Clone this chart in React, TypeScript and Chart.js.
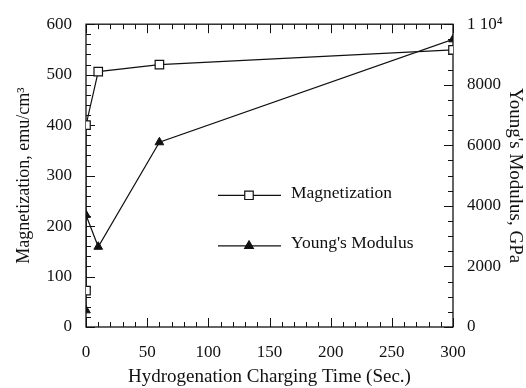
import React, { useEffect, useRef } from 'react';
import { Chart, registerables } from 'chart.js';

Chart.register(...registerables);

// ---- Data ----
const magTime = [0, 0, 10, 60, 300];
const magnetization = [72, 400, 506, 520, 549];
const ymTime = [0, 0, 10, 60, 300];
const youngsModulus = [550, 3700, 2650, 6100, 9500];

const xTickValues = [0, 50, 100, 150, 200, 250, 300];
const leftTickValues = [0, 100, 200, 300, 400, 500, 600];
const rightTickValues = [0, 2000, 4000, 6000, 8000, 10000];
const rightTickLabels = ['0', '2000', '4000', '6000', '8000', '1 10\u2074'];

const seriesNames = ['Magnetization', "Young's Modulus"];

const FONT = "'Liberation Serif', 'Times New Roman', serif";
const INK = '#111';

function drawMarker(ctx: CanvasRenderingContext2D, style: string, x: number, y: number, r: number, fill: string) {
  ctx.beginPath();
  if (style === 'rect') {
    const s = Math.SQRT1_2 * r;
    ctx.rect(x - s, y - s, 2 * s, 2 * s);
  } else {
    let a = 0;
    ctx.moveTo(x + Math.sin(a) * r, y - Math.cos(a) * r);
    a += (2 * Math.PI) / 3;
    ctx.lineTo(x + Math.sin(a) * r, y - Math.cos(a) * r);
    a += (2 * Math.PI) / 3;
    ctx.lineTo(x + Math.sin(a) * r, y - Math.cos(a) * r);
    ctx.closePath();
  }
  ctx.fillStyle = fill;
  ctx.fill();
  ctx.stroke();
}

const framePlugin = {
  id: 'frameTicks',
  beforeDatasetsDraw(chart: any) {
    const { ctx, chartArea: a, scales } = chart;
    const x = scales.x, y = scales.y, y1 = scales.y1;
    ctx.save();
    ctx.strokeStyle = INK;
    ctx.lineWidth = 1.3;
    ctx.strokeRect(a.left, a.top, a.right - a.left, a.bottom - a.top);
    ctx.lineWidth = 1;
    const major = 9, minor = 5;
    ctx.beginPath();
    for (let v = 0; v <= 300; v += 10) {
      const px = Math.round(x.getPixelForValue(v)) + 0.5;
      const len = v % 50 === 0 ? major : minor;
      ctx.moveTo(px, a.bottom); ctx.lineTo(px, a.bottom - len);
      ctx.moveTo(px, a.top); ctx.lineTo(px, a.top + len);
    }
    for (let v = 0; v <= 600; v += 20) {
      const py = Math.round(y.getPixelForValue(v)) + 0.5;
      const len = v % 100 === 0 ? major : minor;
      ctx.moveTo(a.left, py); ctx.lineTo(a.left + len, py);
    }
    for (let v = 0; v <= 10000; v += 500) {
      const py = Math.round(y1.getPixelForValue(v)) + 0.5;
      const len = v % 2000 === 0 ? major : minor;
      ctx.moveTo(a.right, py); ctx.lineTo(a.right - len, py);
    }
    ctx.stroke();
    ctx.restore();
  },
  afterDatasetsDraw(chart: any) {
    const { ctx, chartArea: a } = chart;
    const h = a.bottom - a.top;
    ctx.save();
    ctx.font = `17.5px ${FONT}`;
    ctx.textBaseline = 'middle';
    ctx.textAlign = 'left';
    chart.data.datasets.forEach((ds: any, i: number) => {
      const ly = a.top + h * (i === 0 ? 0.565 : 0.732);
      const x1 = a.left + 132, x2 = a.left + 195, xm = a.left + 163;
      ctx.strokeStyle = INK;
      ctx.lineWidth = 1.2;
      ctx.beginPath();
      ctx.moveTo(x1, ly); ctx.lineTo(x2, ly);
      ctx.stroke();
      drawMarker(ctx, ds.pointStyle, xm, ly, ds.pointRadius, ds.pointBackgroundColor);
      ctx.fillStyle = INK;
      ctx.fillText(seriesNames[i], a.left + 205, ly - 2);
    });
    ctx.restore();
  },
};

export default function App() {
  const ref = useRef<HTMLCanvasElement | null>(null);
  useEffect(() => {
    if (!ref.current) return;
    const chart = new Chart(ref.current, {
      type: 'line',
      data: {
        datasets: [
          {
            label: seriesNames[0],
            data: magTime.map((t, i) => ({ x: t, y: magnetization[i] })),
            yAxisID: 'y',
            borderColor: INK,
            borderWidth: 1.2,
            pointStyle: 'rect',
            pointRadius: 6,
            pointBackgroundColor: '#fff',
            pointBorderColor: INK,
            pointBorderWidth: 1.2,
            tension: 0,
          },
          {
            label: seriesNames[1],
            data: ymTime.map((t, i) => ({ x: t, y: youngsModulus[i] })),
            yAxisID: 'y1',
            borderColor: INK,
            borderWidth: 1.2,
            pointStyle: 'triangle',
            pointRadius: 5,
            pointBackgroundColor: INK,
            pointBorderColor: INK,
            pointBorderWidth: 1,
            tension: 0,
          },
        ] as any,
      },
      options: {
        animation: false,
        responsive: true,
        maintainAspectRatio: false,
        layout: { padding: { top: 16, left: 0, right: 0, bottom: 0 } },
        plugins: { legend: { display: false }, tooltip: { enabled: false } },
        scales: {
          x: {
            type: 'linear',
            position: 'bottom',
            min: 0,
            max: 300,
            afterFit: (s: any) => { s.height = 61; },
            afterBuildTicks: (s: any) => { s.ticks = xTickValues.map((v) => ({ value: v })); },
            grid: { display: false, drawTicks: false },
            border: { display: false },
            ticks: { padding: 15, color: INK, font: { family: FONT, size: 17 }, maxRotation: 0, autoSkip: false },
            title: { display: true, text: 'Hydrogenation Charging Time (Sec.)', color: INK, font: { family: FONT, size: 19 }, padding: { top: 0, bottom: 0 } },
          },
          y: {
            type: 'linear',
            position: 'left',
            min: 0,
            max: 600,
            afterFit: (s: any) => { s.width = 86; },
            afterBuildTicks: (s: any) => { s.ticks = leftTickValues.map((v) => ({ value: v })); },
            grid: { display: false, drawTicks: false },
            border: { display: false },
            ticks: { padding: 14, color: INK, font: { family: FONT, size: 17 } },
            title: { display: true, text: 'Magnetization, emu/cm\u00b3', color: INK, font: { family: FONT, size: 18 }, padding: { top: 13, bottom: 0 } },
          },
          y1: {
            type: 'linear',
            position: 'right',
            min: 0,
            max: 10000,
            afterFit: (s: any) => { s.width = 73; },
            afterBuildTicks: (s: any) => { s.ticks = rightTickValues.map((v) => ({ value: v })); },
            grid: { display: false, drawTicks: false },
            border: { display: false },
            ticks: {
              padding: 14,
              color: INK,
              font: { family: FONT, size: 17 },
              callback: (v: any) => rightTickLabels[rightTickValues.indexOf(Number(v))] ?? String(v),
            },
            title: { display: true, text: "Young's Modulus, GPa", color: INK, font: { family: FONT, size: 19 }, padding: { top: 0, bottom: 0 } },
          },
        },
      } as any,
      plugins: [framePlugin],
    });
    return () => chart.destroy();
  }, []);
  return (
    <div style={{ position: 'absolute', left: 0, top: 0, width: 526, height: 388, background: '#fff' }}>
      <canvas ref={ref} />
    </div>
  );
}
